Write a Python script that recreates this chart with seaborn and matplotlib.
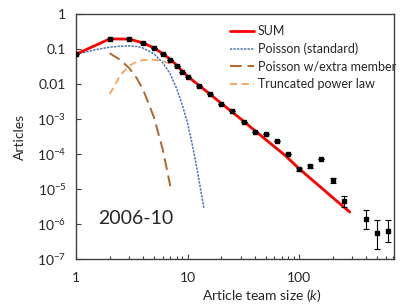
import numpy as np
import matplotlib
matplotlib.use("Agg")
import matplotlib.pyplot as plt
import seaborn as sns
from matplotlib.ticker import FixedLocator, FixedFormatter, LogLocator, NullLocator, NullFormatter

# observed article counts (fraction) by team size
k_obs = [1, 2, 3, 4, 5, 6, 7, 8, 9, 10, 12.6, 15.8, 20, 25, 32, 40, 50, 63, 79,
         100, 126, 158, 200, 251, 398, 501, 631]
p_obs = [0.0706, 0.193, 0.193, 0.145, 0.105, 0.072, 0.0485, 0.0327, 0.022, 0.0158,
         0.0088, 0.0051, 0.0027, 0.00173, 8.4e-4, 4.2e-4, 3.6e-4, 2.3e-4, 9.8e-5,
         3.6e-5, 4.5e-5, 7.0e-5, 1.78e-5, 4.4e-6, 1.39e-6, 5.4e-7, 6.4e-7]
err_lo = [0, 0, 0, 0, 0, 0, 0, 0, 0, 0, 0, 0, 0, 0, 0, 0, 0, 0, 0,
          0.3e-5, 0.4e-5, 0, 0.25e-5, 1.3e-6, 0.67e-6, 0.35e-6, 0.34e-6]
err_hi = [0, 0, 0, 0, 0, 0, 0, 0, 0, 0, 0, 0, 0, 0, 0, 0, 0, 0, 0,
          0.3e-5, 0.4e-5, 0, 0.3e-5, 1.9e-6, 1.07e-6, 0.74e-6, 0.64e-6]

# model curves
k_sum = [1, 2, 3, 4, 5, 6, 7, 8, 9, 10, 13, 16, 20, 30, 50, 75, 100, 150, 200, 285]
p_sum = [0.0706, 0.193, 0.19, 0.148, 0.106, 0.073, 0.050, 0.034, 0.023, 0.0165,
         0.0085, 0.0050, 0.0028, 1.0e-3, 2.6e-4, 9.1e-5, 3.8e-5, 1.26e-5, 5.7e-6, 2.2e-6]

k_pois = [1, 1.5, 2, 2.5, 3, 3.5, 4, 5, 6, 7, 8, 9, 10, 11, 12, 13, 14]
p_pois = [0.070, 0.095, 0.112, 0.119, 0.122, 0.117, 0.105, 0.072, 0.040, 0.019,
          0.0072, 0.0024, 7.5e-4, 1.9e-4, 4.6e-5, 1.1e-5, 2.8e-6]

k_extra = [2, 2.5, 3, 3.5, 4, 5, 6, 7]
p_extra = [0.075, 0.048, 0.028, 0.0145, 0.0067, 0.0011, 1.3e-4, 1.2e-5]

k_tpl = [2, 2.5, 3, 3.5, 4, 5, 6, 7, 8, 9, 10, 13, 16, 20, 30, 50, 75, 100, 150, 200, 285]
p_tpl = [0.0051, 0.018, 0.033, 0.043, 0.048, 0.049, 0.045, 0.038, 0.031, 0.023, 0.016,
         0.0084, 0.0050, 0.0028, 1.0e-3, 2.6e-4, 9.1e-5, 3.8e-5, 1.26e-5, 5.7e-6, 2.2e-6]

y_ticks = [1, 0.1, 0.01, 1e-3, 1e-4, 1e-5, 1e-6, 1e-7]
y_labels = ["1", "0.1", "0.01", "$10^{-3}$", "$10^{-4}$", "$10^{-5}$", "$10^{-6}$", "$10^{-7}$"]
x_ticks = [1, 10, 100]
x_labels = ["1", "10", "100"]

sns.set_theme(style="ticks")
plt.rcParams["font.family"] = ["Lato", "DejaVu Sans"]
plt.rcParams["mathtext.fontset"] = "custom"
plt.rcParams["mathtext.rm"] = "Lato"
plt.rcParams["mathtext.it"] = "Lato:italic"

fig = plt.figure(figsize=(4.16, 3.08), dpi=100)
ax = fig.add_axes([0.183, 0.159, 0.764, 0.796])
ax.set_xscale("log")
ax.set_yscale("log")

sns.lineplot(x=k_tpl, y=p_tpl, ax=ax, color="#f5a15e", lw=1.3,
             linestyle=(0, (4, 2.5)), label="Truncated power law", sort=False)
sns.lineplot(x=k_extra, y=p_extra, ax=ax, color="#b0652a", lw=1.4,
             linestyle=(0, (6, 3)), label="Poisson w/extra member", sort=False)
sns.lineplot(x=k_pois, y=p_pois, ax=ax, color="#4a74b5", lw=1.1,
             linestyle=(0, (1.5, 0.8)), label="Poisson (standard)", sort=False)
sns.lineplot(x=k_sum, y=p_sum, ax=ax, color="#ff0000", lw=2.0,
             label="SUM", sort=False)

ax.errorbar(k_obs, p_obs, yerr=[err_lo, err_hi], fmt="s", color="black",
            ms=3, elinewidth=0.8, capsize=2, capthick=0.8, zorder=5)

ax.set_xlim(1, 710)
ax.set_ylim(1e-7, 1)
ax.yaxis.set_major_locator(FixedLocator(y_ticks))
ax.yaxis.set_major_formatter(FixedFormatter(y_labels))
ax.yaxis.set_minor_locator(NullLocator())
ax.xaxis.set_major_locator(FixedLocator(x_ticks))
ax.xaxis.set_major_formatter(FixedFormatter(x_labels))
ax.xaxis.set_minor_locator(LogLocator(base=10, subs=np.arange(2, 10)))
ax.xaxis.set_minor_formatter(NullFormatter())
ax.tick_params(which="both", direction="in", labelsize=10, color="#404040", width=0.8)
ax.tick_params(axis="x", which="major", length=3.5, pad=9)
ax.tick_params(axis="y", which="major", length=3.5, pad=7)
ax.tick_params(which="minor", length=2.5)
for s in ax.spines.values():
    s.set_color("#404040")
    s.set_linewidth(1.0)

ax.set_xlabel("Article team size ($k$)", fontsize=10)
ax.xaxis.set_label_coords(0.585, -0.115)
ax.set_ylabel("Articles", fontsize=10, labelpad=8)
ax.text(0.07, 0.167, "2006-10", transform=ax.transAxes, fontsize=14, va="center", ha="left")

h, l = ax.get_legend_handles_labels()
order = [3, 2, 1, 0]
ax.legend([h[i] for i in order], [l[i] for i in order], loc="upper left",
          bbox_to_anchor=(0.484, 0.955), frameon=False, fontsize=9, handlelength=1.95,
          handletextpad=0.3, labelspacing=0.45, borderaxespad=0, borderpad=0)

fig.savefig("out.png", dpi=100)
